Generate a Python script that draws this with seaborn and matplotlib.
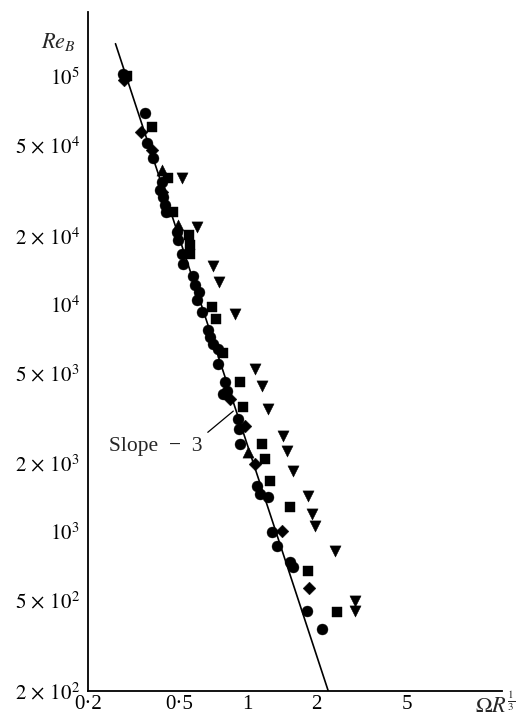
import matplotlib
matplotlib.use("Agg")
import matplotlib.pyplot as plt
import seaborn as sns
import pandas as pd
import numpy as np

# ---------------- data ----------------
circle_x = [0.286, 0.357, 0.364, 0.387, 0.424, 0.415, 0.428, 0.437, 0.441, 0.493,
            0.498, 0.519, 0.524, 0.580, 0.592, 0.616, 0.604, 0.635, 0.675, 0.688,
            0.710, 0.746, 0.746, 0.801, 0.817, 0.785, 0.913, 0.923, 0.932, 1.106,
            1.140, 1.236, 1.288, 1.354, 1.544, 1.591, 1.834, 2.13]
circle_y = [103000, 69500, 51400, 44200, 34600, 31900, 29800, 27500, 25400, 20900,
            19300, 16600, 15000, 13300, 12200, 11400, 10500, 9230, 7760, 7160,
            6680, 6360, 5460, 4550, 4150, 4030, 3130, 2830, 2430, 1590,
            1470, 1430, 1000, 869, 738, 701, 451, 376]

square_x = [0.298, 0.383, 0.451, 0.474, 0.557, 0.562, 0.562, 0.702, 0.731, 0.785,
            0.932, 0.961, 1.163, 1.199, 1.262, 1.544, 1.852, 2.48]
square_y = [101000, 60400, 36100, 25600, 20300, 18300, 16600, 9700, 8590, 6150,
            4550, 3530, 2430, 2090, 1670, 1290, 675, 446]

diamond_x = [0.289, 0.340, 0.383, 0.424, 0.842, 0.980, 1.084, 1.424, 1.870]
diamond_y = [97000, 57400, 47900, 31300, 3830, 2920, 1990, 1010, 568]

tri_up_x = [0.424, 0.498, 1.01]
tri_up_y = [39100, 22400, 2240]

tri_down_x = [0.519, 0.604, 0.710, 0.754, 0.886, 1.084, 1.163, 1.236, 1.439, 1.497,
              1.591, 1.852, 1.928, 1.988, 2.43, 2.98, 2.98]
tri_down_y = [36100, 22000, 14700, 12500, 9040, 5190, 4360, 3460, 2640, 2260,
              1850, 1440, 1200, 1060, 826, 498, 451]

line_x = [0.264, 2.265]
line_y = [140000, 200]

x_ticks = [0.2, 0.5, 1, 2, 5]
x_ticklabels = ["0·2", "0·5", "1", "2", "5"]
y_ticks = [200, 500, 1000, 2000, 5000, 10000, 20000, 50000, 100000]
y_ticklabels = [r"$2\,\times\,10^{2}$", r"$5\,\times\,10^{2}$", r"$10^{3}$",
                r"$2\,\times\,10^{3}$", r"$5\,\times\,10^{3}$", r"$10^{4}$",
                r"$2\,\times\,10^{4}$", r"$5\,\times\,10^{4}$", r"$10^{5}$"]

# ---------------- build table ----------------
frames = []
for name, xs, ys in [("circle", circle_x, circle_y), ("square", square_x, square_y),
                     ("diamond", diamond_x, diamond_y), ("up", tri_up_x, tri_up_y),
                     ("down", tri_down_x, tri_down_y)]:
    frames.append(pd.DataFrame({"x": xs, "y": ys, "kind": name}))
df = pd.concat(frames, ignore_index=True)
line_df = pd.DataFrame({"x": line_x, "y": line_y})

sns.set_style("white")
plt.rcParams["font.family"] = ["Liberation Serif", "DejaVu Serif"]
plt.rcParams["mathtext.fontset"] = "stix"

fig = plt.figure(figsize=(5.16, 7.19), dpi=100)
ax = fig.add_axes([88 / 516, 28 / 719, 414 / 516, 679 / 719])
ax.set_xscale("log")
ax.set_yscale("log")

sns.lineplot(data=line_df, x="x", y="y", color="black", lw=1.2, ax=ax, legend=False)

markers = {"circle": "o", "square": "s", "diamond": "D", "up": "^", "down": "v"}
sizes_map = {"circle": 62, "square": 55, "diamond": 42, "up": 65, "down": 65}
for k, m in markers.items():
    sub = df[df["kind"] == k]
    sns.scatterplot(data=sub, x="x", y="y", marker=m, color="black",
                    s=sizes_map[k], edgecolor="black", linewidth=0.3, ax=ax, legend=False)

ax.set_xlim(0.2, 13.1)
ax.set_ylim(200, 193000)

ax.set_xticks(x_ticks)
ax.set_xticklabels(x_ticklabels)
ax.set_yticks(y_ticks)
ax.set_yticklabels(y_ticklabels)
ax.minorticks_off()
ax.tick_params(axis="both", direction="in", length=9, width=1.0, labelsize=15,
               colors="black")
ax.tick_params(axis="y", pad=6)
ax.tick_params(axis="x", pad=3)

for s in ["top", "right"]:
    ax.spines[s].set_visible(False)
for s in ["left", "bottom"]:
    ax.spines[s].set_color("black")
    ax.spines[s].set_linewidth(1.3)

ax.set_xlabel(r"$\mathit{\Omega R}^{\frac{1}{3}}$", fontsize=16, va="center")
ax.xaxis.set_label_coords(0.983, -0.021)
ax.set_ylabel(r"$Re_B$", fontsize=16, rotation=0, va="center", ha="center")
ax.yaxis.set_label_coords(-0.072, 0.956)

ax.annotate("Slope  −  3", xy=(0.868, 3400), xytext=(0.635, 2380),
            ha="right", va="center", fontsize=15.5,
            arrowprops=dict(arrowstyle="-", color="black", lw=0.9,
                            relpos=(1.0, 1.0), shrinkA=2, shrinkB=0))

fig.savefig("out.png", dpi=100)
